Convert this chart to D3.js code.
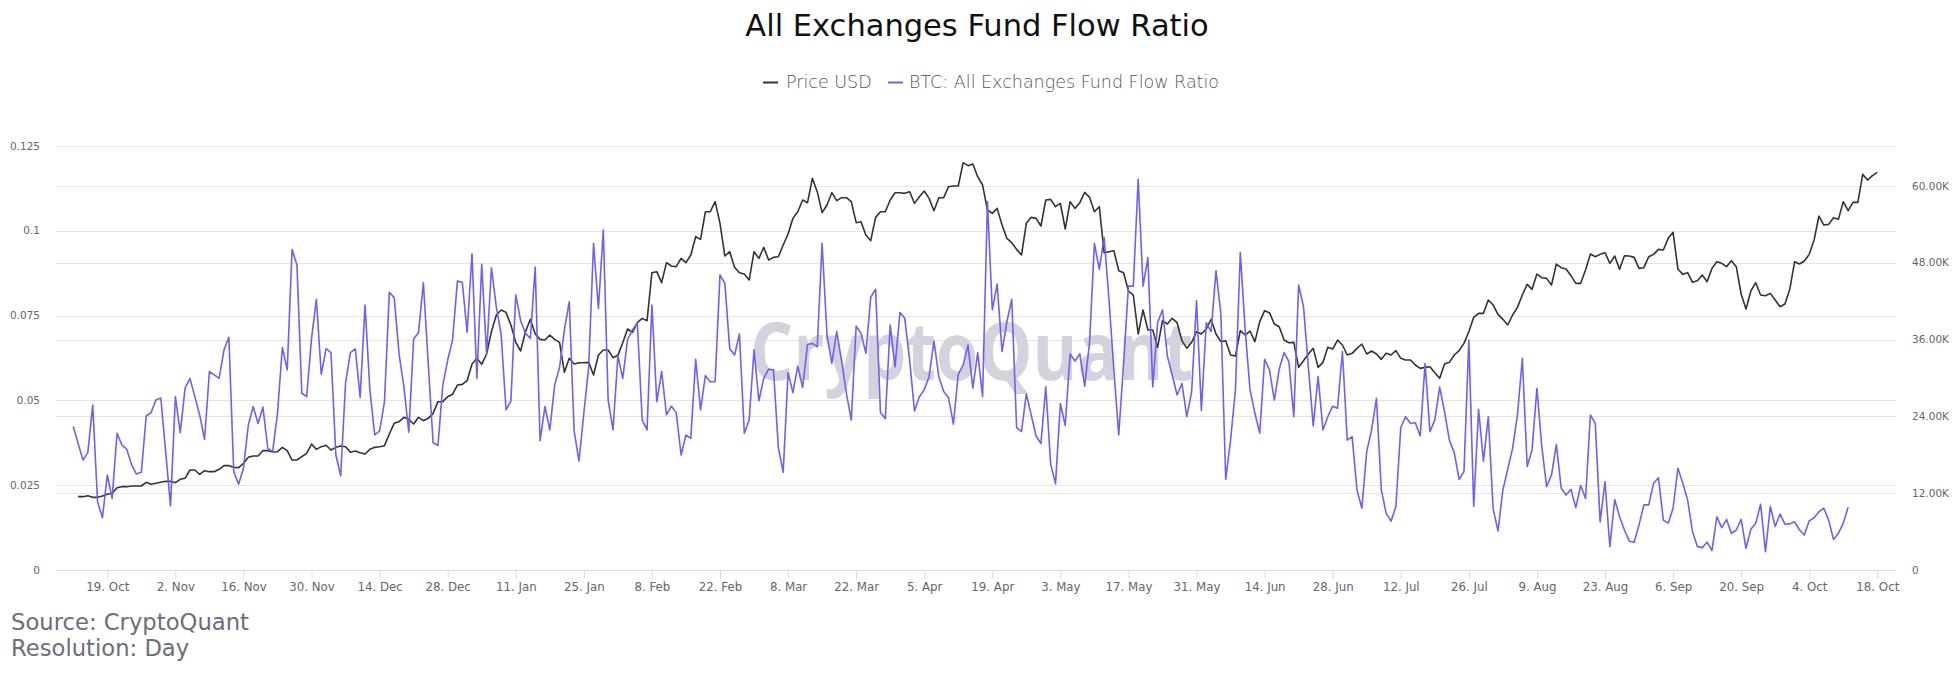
<!DOCTYPE html>
<html>
<head>
<meta charset="utf-8">
<script src="https://cdn.jsdelivr.net/npm/d3@7"></script>
<style>
  html, body { margin: 0; padding: 0; background: #ffffff; }
  svg { display: block; font-family: "DejaVu Sans", sans-serif; }
</style>
</head>
<body>
<svg id="chart" width="1960" height="680"></svg>
<script>
// ---------------- DATA ----------------
const ratioStart = "2020-10-12";   // first day of the ratio series (daily)
const priceStart = "2020-10-13";   // first day of the price series (daily)

const ratioValues = [
  0.0423,0.0373,0.0324,0.0346,0.0486,0.0201,0.0154,0.0280,0.0211,0.0403,
  0.0369,0.0356,0.0310,0.0283,0.0288,0.0454,0.0464,0.0501,0.0507,0.0349,
  0.0189,0.0511,0.0405,0.0536,0.0565,0.0511,0.0457,0.0385,0.0585,0.0575,
  0.0565,0.0649,0.0686,0.0290,0.0253,0.0300,0.0427,0.0482,0.0432,0.0480,
  0.0359,0.0349,0.0462,0.0656,0.0590,0.0945,0.0899,0.0521,0.0511,0.0683,
  0.0798,0.0577,0.0653,
  0.0641,0.0339,0.0278,0.0552,0.0641,0.0652,0.0509,0.0781,0.0531,0.0398,
  0.0410,0.0496,0.0819,0.0803,0.0637,0.0540,0.0406,0.0681,0.0700,0.0847,
  0.0609,0.0375,0.0367,0.0545,0.0619,0.0678,0.0852,0.0848,0.0701,0.0932,
  0.0565,0.0901,0.0636,0.0891,0.0776,0.0693,0.0472,0.0498,0.0811,0.0735,
  0.0698,0.0683,0.0893,0.0381,0.0482,0.0413,0.0545,0.0597,0.0708,0.0791,
  0.0411,0.0321,0.0462,0.0599,0.0963,0.0771,0.1002,0.0501,0.0413,0.0631,
  0.0565,0.0680,0.0708,0.0729,0.0442,0.0413,
  0.0781,0.0496,0.0585,0.0457,0.0483,0.0464,0.0339,0.0398,0.0388,0.0621,
  0.0472,0.0573,0.0555,0.0555,0.0870,0.0845,0.0652,0.0634,0.0696,0.0403,
  0.0442,0.0649,0.0499,0.0565,0.0592,0.0590,0.0361,0.0288,0.0582,0.0523,
  0.0601,0.0538,0.0665,0.0668,0.0658,0.0963,0.0693,0.0609,0.0703,0.0617,
  0.0521,0.0442,0.0719,0.0698,0.0639,0.0804,0.0828,0.0464,0.0446,0.0722,
  0.0599,0.0759,0.0742,0.0619,0.0469,0.0511,0.0531,0.0570,0.0675,0.0570,
  0.0526,0.0508,0.0430,0.0577,0.0604,0.0663,
  0.0536,0.0641,0.0511,0.1086,0.0767,0.0843,0.0644,0.0732,0.0798,0.0420,
  0.0408,0.0519,0.0457,0.0395,0.0373,0.0540,0.0313,0.0254,0.0491,0.0426,
  0.0637,0.0616,0.0637,0.0542,0.0671,0.0963,0.0886,0.0981,0.0796,0.0590,
  0.0398,0.0609,0.0837,0.0837,0.1152,0.0837,0.0921,0.0540,0.0729,0.0767,
  0.0631,0.0575,0.0516,0.0550,0.0452,0.0526,0.0794,0.0470,0.0729,0.0703,
  0.0882,0.0757,0.0267,0.0383,0.0531,0.0936,0.0708,0.0531,0.0462,0.0403,
  0.0621,0.0590,0.0501,0.0592,0.0641,0.0614,
  0.0452,0.0840,0.0776,0.0599,0.0425,0.0570,0.0413,0.0452,0.0483,0.0477,
  0.0644,0.0383,0.0393,0.0236,0.0182,0.0349,0.0413,0.0506,0.0236,0.0167,
  0.0144,0.0187,0.0420,0.0452,0.0432,0.0434,0.0395,0.0609,0.0408,0.0442,
  0.0539,0.0467,0.0383,0.0346,0.0267,0.0290,0.0678,0.0187,0.0474,0.0321,
  0.0452,0.0180,0.0115,0.0236,0.0297,0.0359,0.0457,0.0624,0.0305,0.0354,
  0.0536,0.0364,0.0246,0.0280,0.0370,0.0241,0.0221,0.0238,0.0184,0.0249,
  0.0211,0.0457,0.0432,0.0142,0.0260,0.0069,
  0.0208,0.0157,0.0118,0.0085,0.0082,0.0133,0.0192,0.0192,0.0256,0.0272,
  0.0147,0.0138,0.0182,0.0300,0.0256,0.0206,0.0113,0.0069,0.0066,0.0082,
  0.0057,0.0157,0.0125,0.0149,0.0108,0.0118,0.0149,0.0064,0.0120,0.0138,
  0.0194,0.0054,0.0187,0.0128,0.0165,0.0135,0.0136,0.0142,0.0118,0.0103,
  0.0145,0.0154,0.0172,0.0182,0.0147,0.0090,0.0108,0.0138,0.0185
];

const priceValues = [
  11458,11458,11614,11353,11353,11562,11822,11978,12864,13020,
  13020,13124,13124,13124,13697,13385,13541,13697,13853,13853,
  13645,14166,14322,15624,15624,14947,15520,15364,15364,15728,
  16301,16301,16041,15989,16666,17603,17811,17811,18645,18645,
  18436,18488,19165,18645,17186,17186,17707,18228,19686,18853,
  19270,19500,
  18749,19165,19374,19270,18384,18593,18332,18124,18853,19165,
  19270,19426,21249,22915,23176,23853,23540,22811,23853,23332,
  23696,24478,26300,26300,27082,27446,28904,29009,29581,32185,
  33071,32133,33748,37237,39841,40622,40258,38279,35571,34217,
  37237,39164,36873,36039,35935,36716,36039,35571,30883,33071,
  32185,32394,32394,32446,30467,33592,34373,34373,33175,33540,
  35519,37654,37133,38643,39320,38956,
  46455,46612,44893,48018,47497,47393,48695,48018,49216,52080,
  51663,55986,55986,57548,54163,49059,49736,47289,46455,46247,
  45310,49736,48695,50413,48434,48851,48955,50778,52497,54944,
  55986,57809,57392,61194,59111,55830,57028,58955,57705,58173,
  58173,57548,54267,54424,52340,51455,55101,55986,55986,57809,
  58955,58955,58850,59111,57288,58330,59215,58069,56142,58173,
  58173,59892,59996,59996,63642,63173,
  63433,61454,60152,56246,55726,56507,53903,51820,51143,50101,
  49216,54163,55101,54944,53747,57809,57913,56767,57288,53278,
  57548,56507,57392,59007,58225,55986,56767,49580,49736,49893,
  46768,46455,43591,42966,36873,40622,37498,37498,34789,38956,
  38435,39320,38643,35831,34633,35571,37237,36873,37654,39164,
  36873,35675,35831,33592,33435,37393,36716,37341,35675,38800,
  40518,40206,38435,38018,35935,35519,
  35571,31665,32706,33748,34633,31665,32446,34789,34529,35935,
  35154,33592,33852,34633,35310,33748,34217,33748,32915,33852,
  33592,34269,33071,32810,32810,32029,31508,31665,31769,30831,
  29946,32185,32446,33592,34269,35414,37237,39477,40102,40102,
  42185,41404,39945,39164,38279,39841,41039,42966,44633,43851,
  46247,45674,45570,44528,47809,47237,47028,45987,44789,44789,
  46872,49372,48955,49320,49580,47914,
  49059,46976,49111,49059,48851,47132,47237,48955,49320,50101,
  49997,51820,52757,47028,46195,46455,44945,45205,46091,45049,
  47132,48174,47914,47393,48330,47393,43122,40779,43591,44893,
  42966,42862,43226,42185,41143,41560,43851,48174,47809,48278,
  49320,51559,55309,53903,54007,55049,54788,57548,56142,57444,
  57444,61819,60933,61610,62131
];

const xTickDates = [
  "2020-10-19","2020-11-02","2020-11-16","2020-11-30","2020-12-14","2020-12-28",
  "2021-01-11","2021-01-25","2021-02-08","2021-02-22","2021-03-08","2021-03-22",
  "2021-04-05","2021-04-19","2021-05-03","2021-05-17","2021-05-31","2021-06-14",
  "2021-06-28","2021-07-12","2021-07-26","2021-08-09","2021-08-23","2021-09-06",
  "2021-09-20","2021-10-04","2021-10-18"
];
const leftTicks  = [0, 0.025, 0.05, 0.075, 0.1, 0.125];
const leftTickLabels = ["0", "0.025", "0.05", "0.075", "0.1", "0.125"];
const rightTicks = [0, 12000, 24000, 36000, 48000, 60000];
const rightTickLabels = ["0", "12.00K", "24.00K", "36.00K", "48.00K", "60.00K"];

const seriesNames = ["Price USD", "BTC: All Exchanges Fund Flow Ratio"];
const titleText = "All Exchanges Fund Flow Ratio";
const creditLines = ["Source: CryptoQuant", "Resolution: Day"];

// ---------------- BUILD ----------------
const parse = d3.utcParse("%Y-%m-%d");
const DAY = 86400000;
const ratioData = ratioValues.map((v, i) => ({ date: new Date(parse(ratioStart).getTime() + i * DAY), v }));
const priceData = priceValues.map((v, i) => ({ date: new Date(parse(priceStart).getTime() + i * DAY), v }));
const tickDates = xTickDates.map(parse);

const W = 1960, H = 680;
const plot = { left: 56, right: 1896, top: 146, bottom: 570 };

const x = d3.scaleUtc()
  .domain([parse("2020-10-19"), parse("2021-10-18")])
  .range([107.3, 1877.3]);
const yL = d3.scaleLinear().domain([0, 0.125]).range([plot.bottom, plot.top]);
const yR = d3.scaleLinear().domain([0, 60000]).range([plot.bottom, 186]);

const svg = d3.select("#chart");
svg.append("rect").attr("width", W).attr("height", H).attr("fill", "#ffffff");

const gridColor = "#e3e3ea";

// grid lines (both axes)
const grid = svg.append("g");
grid.selectAll("line.gl").data(leftTicks).join("line")
  .attr("x1", plot.left).attr("x2", plot.right)
  .attr("y1", d => Math.round(yL(d)) + 0.5).attr("y2", d => Math.round(yL(d)) + 0.5)
  .attr("stroke", gridColor).attr("stroke-width", 1);
grid.selectAll("line.gr").data(rightTicks.slice(1)).join("line")
  .attr("x1", plot.left).attr("x2", plot.right)
  .attr("y1", d => Math.round(yR(d)) + 0.5).attr("y2", d => Math.round(yR(d)) + 0.5)
  .attr("stroke", gridColor).attr("stroke-width", 1);

// watermark
svg.append("text")
  .attr("x", 750).attr("y", 380)
  .attr("textLength", 443).attr("lengthAdjust", "spacingAndGlyphs")
  .style("font-family", "'Open Sans', sans-serif")
  .style("font-weight", 700)
  .style("font-size", "81px")
  .attr("fill", "#d4d3dd")
  .text("CryptoQuant");

// x axis
const xAxis = d3.axisBottom(x)
  .tickValues(tickDates)
  .tickFormat(d3.utcFormat("%-d. %b"))
  .tickSize(8)
  .tickPadding(4);
const gx = svg.append("g").attr("transform", `translate(0,${plot.bottom + 0.5})`).call(xAxis);
gx.select(".domain").attr("d", `M${plot.left},0H${plot.right}`).attr("stroke", "#d8d8e2");
gx.selectAll(".tick line").attr("stroke", "#d8d8e2");
gx.selectAll(".tick text")
  .attr("fill", "#666666")
  .style("font-family", "'DejaVu Sans', sans-serif")
  .style("font-size", "11.8px")
  .attr("dy", "0.71em");

// left axis labels
const gl = svg.append("g");
gl.selectAll("text").data(leftTicks).join("text")
  .attr("x", 40).attr("y", d => yL(d))
  .attr("dy", "0.35em")
  .attr("text-anchor", "end")
  .attr("fill", "#666666")
  .style("font-size", "10.5px")
  .text((d, i) => leftTickLabels[i]);

// right axis labels
const gr = svg.append("g");
gr.selectAll("text").data(rightTicks).join("text")
  .attr("x", 1912).attr("y", d => yR(d))
  .attr("dy", "0.35em")
  .attr("text-anchor", "start")
  .attr("fill", "#666666")
  .style("font-size", "10.5px")
  .text((d, i) => rightTickLabels[i]);

// series
const ratioColor = "#7060f0";
const priceColor = "#333333";
svg.append("clipPath").attr("id", "plotclip").append("rect")
  .attr("x", plot.left).attr("y", plot.top - 10).attr("width", plot.right - plot.left).attr("height", plot.bottom - plot.top + 10);

const lineR = d3.line().x(d => x(d.date)).y(d => yL(d.v));
const lineP = d3.line().x(d => x(d.date)).y(d => yR(d.v));

const series = svg.append("g").attr("clip-path", "url(#plotclip)");
series.append("path").datum(priceData)
  .attr("d", lineP).attr("fill", "none")
  .attr("stroke", priceColor).attr("stroke-width", 1.6)
  .attr("stroke-linejoin", "round");
series.append("path").datum(ratioData)
  .attr("d", lineR).attr("fill", "none")
  .attr("stroke", ratioColor).attr("stroke-width", 1.6)
  .attr("stroke-linejoin", "round");

// title
svg.append("text")
  .attr("x", 977).attr("y", 36)
  .attr("text-anchor", "middle")
  .attr("fill", "#111111")
  .style("font-size", "30.5px")
  .text(titleText);

// legend
const legend = svg.append("g");
const legendItems = [
  { name: seriesNames[0], color: priceColor, sx: 763, tx: 786 },
  { name: seriesNames[1], color: ratioColor, sx: 888, tx: 909 }
];
legendItems.forEach(it => {
  legend.append("line")
    .attr("x1", it.sx).attr("x2", it.sx + 15)
    .attr("y1", 82.5).attr("y2", 82.5)
    .attr("stroke", it.color).attr("stroke-width", 2);
  legend.append("text")
    .attr("x", it.tx).attr("y", 88)
    .attr("fill", "#555555")
    .style("font-size", "17.5px")
    .style("font-weight", 200)
    .text(it.name);
});

// credits
svg.selectAll("text.credit").data(creditLines).join("text")
  .attr("class", "credit")
  .attr("x", 11).attr("y", (d, i) => 630 + i * 25.5)
  .attr("fill", "#6d6d7a")
  .style("font-size", "22.7px")
  .text(d => d);
</script>
</body>
</html>
